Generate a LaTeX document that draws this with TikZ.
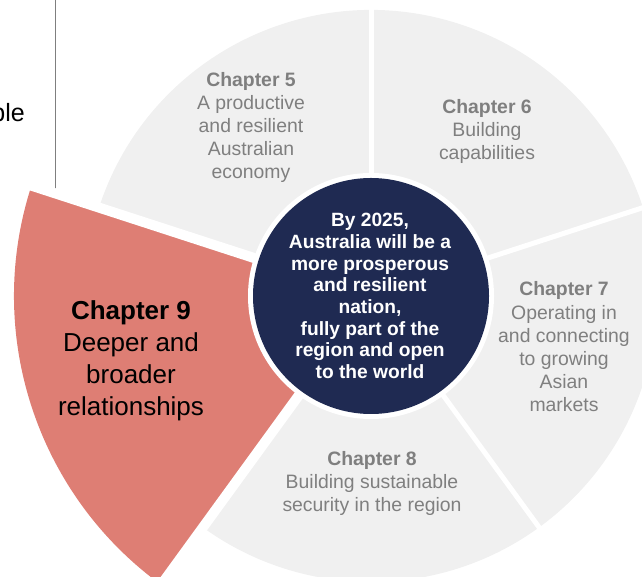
\documentclass[tikz,border=0pt]{standalone}
\usepackage{fontspec}
\setmainfont{Liberation Sans}
\usepackage{xcolor}
\usetikzlibrary{calc}

\definecolor{wheelgray}{HTML}{F0F0F0}
\definecolor{textgray}{HTML}{7F7F7F}
\definecolor{navy}{HTML}{1F2A52}
\definecolor{salmon}{HTML}{DE7E74}

\begin{document}
\begin{tikzpicture}[x=1pt, y=1pt,
    chapter/.style={align=center, text=textgray, inner sep=0pt, font=\fontsize{19.4}{23.2}\selectfont},
    gap/.style={white, line width=5pt}]
    \useasboundingbox (0,0) rectangle (642,577);
    \clip (0,0) rectangle (642,577);
    \coordinate (c) at (371,281);

    % Side rule and cut-off text
    \draw[textgray, line width=1pt] (55,577) -- (55,384);
    \node[anchor=base east, inner sep=0pt, font=\fontsize{25}{30}\selectfont] (ble) at (25,455.3) {ble};

    % Grey sectors
    \fill[wheelgray] (c) -- ++(162:286pt) arc[start angle=162, end angle=-126, radius=286pt] -- cycle;

    % Highlighted sector
    \fill[salmon] (c) -- ++(162:357pt) arc[start angle=162, end angle=234, radius=357pt] -- cycle;

    % White gaps
    \foreach \a in {90,18,-54}
        \draw[gap] (c) -- ++(\a:300pt);
    \foreach \a in {162,234}
        \draw[gap, line width=10pt] (c) -- ++(\a:380pt);

    % Centre
    \fill[white] (c) circle (123pt);
    \node[circle, fill=navy, minimum size=236pt, inner sep=0pt] (core) at (c) {};
    \node[align=center, text=white, inner sep=0pt, font=\bfseries\fontsize{19.2}{21.7}\selectfont] (goal) at (370,281)
        {By 2025,\\Australia will be a\\more prosperous\\and resilient\\nation,\\fully part of the\\region and open\\to the world};

    % Chapters
    \node[chapter] (ch5) at (251,449.5) {\textbf{Chapter 5}\\A productive\\and resilient\\Australian\\economy};
    \node[chapter] (ch6) at (487,445.5) {\textbf{Chapter 6}\\Building\\capabilities};
    \node[chapter] (ch7) at (564,230) {\textbf{Chapter 7}\\Operating in\\and connecting\\to growing\\Asian\\markets};
    \node[chapter] (ch8) at (372,93.5) {\textbf{Chapter 8}\\Building sustainable\\security in the region};
    \node[align=center, inner sep=0pt, font=\fontsize{26}{32}\selectfont] (ch9) at (131,216)
        {\textbf{Chapter 9}\\Deeper and\\broader\\relationships};
\end{tikzpicture}
\end{document}
